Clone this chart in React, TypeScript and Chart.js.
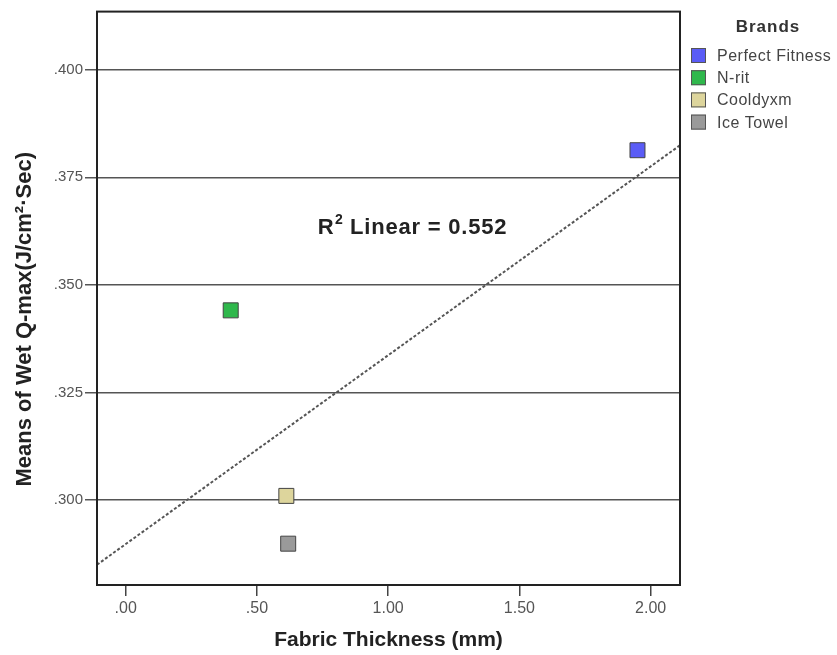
import React, { useEffect, useRef } from "react";
import { Chart, registerables } from "chart.js";

Chart.register(...registerables);

const BRANDS = ["Perfect Fitness", "N-rit", "Cooldyxm", "Ice Towel"];
const THICKNESS = [1.95, 0.4, 0.612, 0.619];
const WET_QMAX = [0.3813, 0.3441, 0.301, 0.2899];
const COLORS = ["#5a5cf6", "#2fb84c", "#ddd59c", "#9a9a9a"];
const Y_TICKS = [0.3, 0.325, 0.35, 0.375, 0.4];
const X_TICKS = [0, 0.5, 1, 1.5, 2];
const X_MIN = -0.1095;
const X_MAX = 2.112;
const Y_MIN = 0.2803;
const Y_MAX = 0.4135;
const R2_TEXT_POS = [1.093, 0.3637];
const Y_TITLE = "Means of Wet Q-max(J/cm²·Sec)";
const X_TITLE = "Fabric Thickness (mm)";

const FONT = "'Liberation Sans', Arial, sans-serif";

function fmt(v: number, d: number) {
  const s = v.toFixed(d);
  return s.startsWith("0.") ? s.slice(1) : s;
}

function regression(xs: number[], ys: number[]) {
  const n = xs.length;
  const mx = xs.reduce((a, b) => a + b, 0) / n;
  const my = ys.reduce((a, b) => a + b, 0) / n;
  let sxy = 0, sxx = 0, syy = 0;
  for (let i = 0; i < n; i++) {
    sxy += (xs[i] - mx) * (ys[i] - my);
    sxx += (xs[i] - mx) ** 2;
    syy += (ys[i] - my) ** 2;
  }
  const slope = sxy / sxx;
  const intercept = my - slope * mx;
  const r2 = (slope * sxy) / syy;
  return { slope, intercept, r2 };
}

export default function App() {
  const ref = useRef<HTMLCanvasElement | null>(null);
  useEffect(() => {
    if (!ref.current) return;
    const fit = regression(THICKNESS, WET_QMAX);
    const datasets: any[] = BRANDS.map((b, i) => ({
      type: "scatter",
      label: b,
      data: [{ x: THICKNESS[i], y: WET_QMAX[i] }],
      pointStyle: "rect",
      pointRadius: 10.6,
      pointHoverRadius: 10.6,
      backgroundColor: COLORS[i],
      borderColor: "#444",
      borderWidth: 1,
    }));
    datasets.push({
      type: "line",
      label: "fit",
      data: [
        { x: X_MIN, y: fit.intercept + fit.slope * X_MIN },
        { x: X_MAX, y: fit.intercept + fit.slope * X_MAX },
      ],
      borderColor: "#555",
      borderWidth: 2,
      borderDash: [3, 2],
      pointRadius: 0,
      fill: false,
    });

    const extras = {
      id: "extras",
      afterDraw(chart: any) {
        const ctx = chart.ctx;
        const a = chart.chartArea;
        ctx.save();
        ctx.strokeStyle = "#222";
        ctx.lineWidth = 2;
        ctx.strokeRect(a.left, a.top, a.right - a.left, a.bottom - a.top);
        // y title
        ctx.save();
        ctx.translate(25, (a.top + a.bottom) / 2 + 21);
        ctx.rotate(-Math.PI / 2);
        ctx.textAlign = "center";
        ctx.textBaseline = "middle";
        ctx.font = "bold 22px " + FONT;
        ctx.fillStyle = "#222";
        ctx.fillText(Y_TITLE, 0, 0);
        ctx.restore();
        // R2 label
        const xs = chart.scales.x, ys = chart.scales.y;
        const cx = xs.getPixelForValue(R2_TEXT_POS[0]);
        const cy = ys.getPixelForValue(R2_TEXT_POS[1]);
        ctx.fillStyle = "#222";
        ctx.textBaseline = "alphabetic";
        (ctx as any).letterSpacing = "0.8px";
        const big = "bold 22px " + FONT;
        const small = "bold 14px " + FONT;
        const rest = " Linear = " + fit.r2.toFixed(3);
        ctx.font = big;
        const wR = ctx.measureText("R").width;
        const wRest = ctx.measureText(rest).width;
        ctx.font = small;
        const w2 = ctx.measureText("2").width;
        const total = wR + w2 + wRest;
        const x0 = cx - total / 2;
        const base = cy + 8;
        ctx.font = big;
        ctx.textAlign = "left";
        ctx.fillText("R", x0, base);
        ctx.font = small;
        ctx.fillText("2", x0 + wR + 0.5, base - 10);
        ctx.font = big;
        ctx.fillText(rest, x0 + wR + w2, base);
        // legend
        ctx.textAlign = "center";
        ctx.textBaseline = "middle";
        (ctx as any).letterSpacing = "1px";
        ctx.font = "bold 17px " + FONT;
        ctx.fillStyle = "#333";
        ctx.fillText("Brands", 768, 27);
        ctx.textAlign = "left";
        (ctx as any).letterSpacing = "0.5px";
        ctx.font = "16px " + FONT;
        BRANDS.forEach((b, i) => {
          const yc = 55.5 + i * 22.2;
          ctx.fillStyle = COLORS[i];
          ctx.fillRect(691, yc - 7.5, 15, 15);
          ctx.strokeStyle = "#555";
          ctx.lineWidth = 1;
          ctx.strokeRect(691.5, yc - 7, 14, 14);
          ctx.fillStyle = "#444";
          ctx.fillText(b, 717, yc + 1);
        });
        ctx.restore();
      },
    };

    const chart = new Chart(ref.current, {
      data: { datasets },
      plugins: [extras],
      options: {
        animation: false,
        responsive: false,
        layout: { padding: { top: 10, right: 157, left: 0, bottom: 0 } },
        plugins: { legend: { display: false }, tooltip: { enabled: false } },
        scales: {
          x: {
            type: "linear",
            min: X_MIN,
            max: X_MAX,
            afterFit: (s: any) => { s.height = 70; },
            afterBuildTicks: (s: any) => { s.ticks = X_TICKS.map((v) => ({ value: v })); },
            ticks: {
              callback: (v: any) => fmt(Number(v), 2),
              color: "#555",
              font: { family: FONT, size: 16 },
              padding: 3,
              maxRotation: 0,
              autoSkip: false,
            },
            grid: { drawOnChartArea: false, drawTicks: true, tickLength: 11, color: "#444", lineWidth: 1.5 },
            border: { display: true, color: "#222", width: 2 },
            title: {
              display: true,
              text: X_TITLE,
              color: "#222",
              font: { family: FONT, size: 21, weight: "bold" },
              padding: { top: 0, bottom: 2 },
            },
          },
          y: {
            type: "linear",
            min: Y_MIN,
            max: Y_MAX,
            afterFit: (s: any) => { s.width = 97; },
            afterBuildTicks: (s: any) => { s.ticks = Y_TICKS.map((v) => ({ value: v })); },
            ticks: {
              callback: (v: any) => fmt(Number(v), 3),
              color: "#555",
              font: { family: FONT, size: 15 },
              padding: 2,
              autoSkip: false,
            },
            grid: { drawOnChartArea: true, drawTicks: true, tickLength: 12, color: "#555", lineWidth: 1.5 },
            border: { display: true, color: "#222", width: 2 },
            title: { display: false },
          },
        },
      } as any,
    } as any);
    return () => chart.destroy();
  }, []);
  return (
    <div style={{ position: "absolute", left: 0, top: 0, width: 837, height: 655, background: "#fff" }}>
      <canvas ref={ref} width={837} height={655} />
    </div>
  );
}
